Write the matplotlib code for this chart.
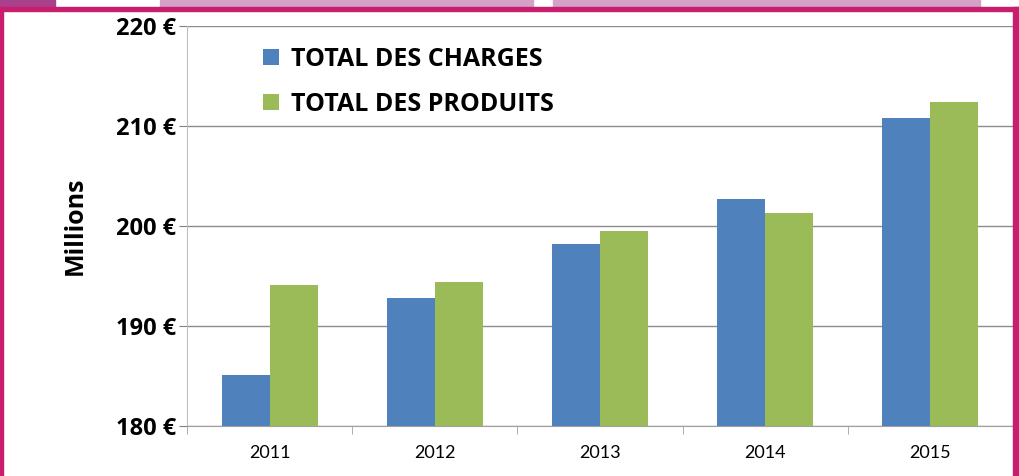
import matplotlib.pyplot as plt
import numpy as np
from matplotlib.patches import Rectangle

# data
years = ['2011', '2012', '2013', '2014', '2015']
total_charges = [185.1, 192.8, 198.2, 202.7, 210.8]
total_produits = [194.1, 194.4, 199.5, 201.3, 212.4]
y_ticks = [180, 190, 200, 210, 220]
y_labels = ['180 €', '190 €', '200 €', '210 €', '220 €']

plt.rcParams['font.family'] = ['Lato', 'DejaVu Sans']
bold_font = ['Open Sans', 'DejaVu Sans']

W, H = 1019, 476
fig = plt.figure(figsize=(W / 100, H / 100), dpi=100)

# slide background strip at the top and magenta frame
def px_rect(x0, y0, x1, y1, color, z=0):
    fig.patches.append(Rectangle((x0 / W, 1 - y1 / H), (x1 - x0) / W, (y1 - y0) / H,
                                 transform=fig.transFigure, color=color, zorder=z))

px_rect(0, 0, 55, 8, '#a8408c')
px_rect(160, 0, 533, 8, '#d4a2c6')
px_rect(553, 0, 980, 8, '#d4a2c6')
px_rect(0, 7, W, 11, '#c81e6e')
px_rect(0, 7, 3, H, '#c81e6e')
px_rect(1013, 7, W, H, '#c81e6e')

ax = fig.add_axes([187 / W, 1 - 426 / H, (1013 - 187) / W, 400 / H])

x = np.arange(len(years))
w = 0.29
ax.bar(x - w / 2, total_charges, w, color='#4f81bd', label='TOTAL DES CHARGES', zorder=3)
ax.bar(x + w / 2, total_produits, w, color='#9bbb59', label='TOTAL DES PRODUITS', zorder=3)

ax.set_xlim(-0.5, len(years) - 0.5)
ax.set_ylim(180, 220)
ax.set_yticks(y_ticks)
ax.set_yticklabels(y_labels, fontsize=17, fontweight='bold', family=bold_font)
ax.set_xticks(x)
ax.set_xticklabels(years, fontsize=13)
ax.set_xticks(np.arange(len(years) + 1) - 0.5, minor=True)
ax.tick_params(axis='x', which='major', length=0, pad=14)
ax.tick_params(axis='x', which='minor', length=6, color='#a0a0a0')
ax.tick_params(axis='y', length=6, color='#808080', pad=2)
ax.yaxis.grid(True, color='#8c8c8c', linewidth=1, zorder=0)

for s in ['top', 'right']:
    ax.spines[s].set_visible(False)
ax.spines['left'].set_color('#bfbfbf')
ax.spines['bottom'].set_color('#a0a0a0')

ax.set_ylabel('Millions', fontsize=18, fontweight='bold', family=bold_font, labelpad=20)

ax.legend(loc='upper left', bbox_to_anchor=(0.065, 1.005), frameon=False,
          prop={'size': 18, 'weight': 'bold', 'family': bold_font},
          handlelength=0.65, handleheight=0.6, labelspacing=0.82, handletextpad=0.45)

fig.savefig('out.png', dpi=100)
